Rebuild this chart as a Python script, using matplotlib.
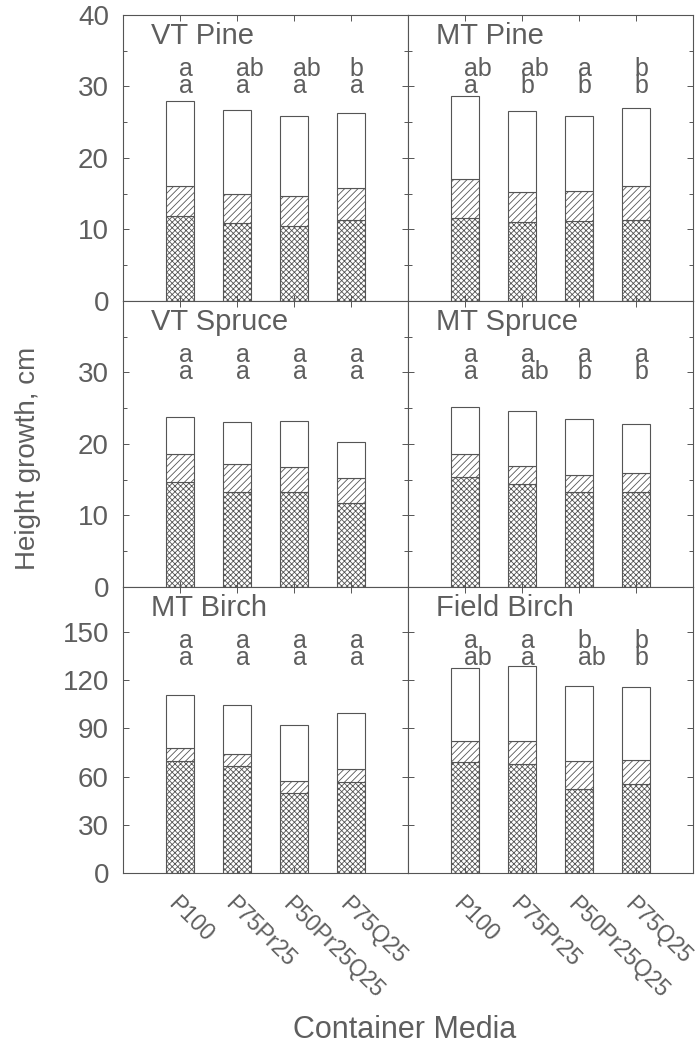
import numpy as np
import matplotlib
matplotlib.use("Agg")
import matplotlib.pyplot as plt
from matplotlib.ticker import MultipleLocator

plt.rcParams['font.family'] = ['Liberation Sans', 'DejaVu Sans']
plt.rcParams['hatch.linewidth'] = 0.6

# container media (x categories)
media = ["P100", "P75Pr25", "P50Pr25Q25", "P75Q25"]

# layer tops for each bar: [crosshatched, striped, total]
vt_pine = [[11.8, 10.9, 10.5, 11.3], [16.1, 14.9, 14.7, 15.8], [27.9, 26.7, 25.8, 26.2]]
mt_pine = [[11.6, 11.0, 11.2, 11.3], [17.0, 15.2, 15.3, 16.1], [28.6, 26.6, 25.9, 26.9]]
vt_spruce = [[14.6, 13.3, 13.3, 11.7], [18.6, 17.2, 16.7, 15.2], [23.8, 23.1, 23.2, 20.2]]
mt_spruce = [[15.3, 14.4, 13.2, 13.3], [18.6, 16.9, 15.6, 15.9], [25.2, 24.6, 23.5, 22.8]]
mt_birch = [[69.6, 66.4, 49.8, 56.4], [77.5, 73.8, 57.5, 64.4], [110.6, 104.6, 91.9, 99.6]]
field_birch = [[68.9, 67.5, 52.3, 55.2], [82.3, 81.9, 69.6, 70.4], [127.7, 128.5, 116.4, 115.8]]

# significance letters (upper row, lower row)
vt_pine_sig = [["a", "ab", "ab", "b"], ["a", "a", "a", "a"]]
mt_pine_sig = [["ab", "ab", "a", "b"], ["a", "b", "b", "b"]]
vt_spruce_sig = [["a", "a", "a", "a"], ["a", "a", "a", "a"]]
mt_spruce_sig = [["a", "a", "a", "a"], ["a", "ab", "b", "b"]]
mt_birch_sig = [["a", "a", "a", "a"], ["a", "a", "a", "a"]]
field_birch_sig = [["a", "a", "b", "b"], ["ab", "a", "ab", "b"]]

panels = [
    ("VT Pine", vt_pine, vt_pine_sig),
    ("MT Pine", mt_pine, mt_pine_sig),
    ("VT Spruce", vt_spruce, vt_spruce_sig),
    ("MT Spruce", mt_spruce, mt_spruce_sig),
    ("MT Birch", mt_birch, mt_birch_sig),
    ("Field Birch", field_birch, field_birch_sig),
]

txt = "#5e5e5e"
edge = "#555555"
hatches = ["xxxxxx", "/////", ""]

fig, axes = plt.subplots(3, 2, figsize=(6.98, 10.53), dpi=100)
fig.subplots_adjust(left=0.176, right=0.993, top=0.986, bottom=0.171,
                    hspace=0, wspace=0)

x = np.arange(1, len(media) + 1)

for i, (ax, (title, layers, sig)) in enumerate(zip(axes.flat, panels)):
    row, col = divmod(i, 2)
    prev = np.zeros(len(media))
    for top, h in zip(layers, hatches):
        top = np.array(top)
        ax.bar(x, top - prev, bottom=prev, width=0.5, color="white",
               edgecolor=edge, linewidth=0.8, hatch=h)
        prev = top

    # y ticks: labelled ones only, limits set afterwards
    if row == 0:
        ax.set_yticks(np.arange(0, 41, 10))
        ax.yaxis.set_minor_locator(MultipleLocator(5))
        ax.set_ylim(0, 40)
    elif row == 1:
        ax.set_yticks(np.arange(0, 31, 10))
        ax.yaxis.set_minor_locator(MultipleLocator(5))
        ax.set_ylim(0, 40)
    else:
        ax.set_yticks(np.arange(0, 151, 30))
        ax.set_ylim(0, 178)
    ax.set_xlim(0, 5)

    ax.set_xticks(x)
    ax.tick_params(axis="both", which="both", direction="in", top=True,
                   right=True, colors=edge, labelcolor=txt, labelsize=20,
                   length=4, width=0.7)
    ax.tick_params(axis="y", which="minor", length=3)
    ax.tick_params(axis="y", pad=10)
    for s in ax.spines.values():
        s.set_color(edge)
        s.set_linewidth(0.8)

    if row < 2:
        ax.set_xticklabels([])
    else:
        ax.set_xticklabels(media, rotation=-45, ha="left", va="top",
                           rotation_mode="anchor", fontsize=16.5)
        ax.tick_params(axis="x", pad=14)

    if col == 1:
        ax.set_yticklabels([])

    ax.text(0.1, 0.927, title, transform=ax.transAxes, fontsize=21,
            color=txt, ha="left", va="center")
    for j, xi in enumerate(x):
        ax.text(xi - 0.02, 0.78, sig[0][j] + "\n" + sig[1][j],
                transform=ax.get_xaxis_transform(), fontsize=18,
                color=txt, ha="left", va="center", linespacing=0.62)

fig.text(0.04, 0.565, "Height growth, cm", rotation=90, fontsize=20,
         color=txt, ha="center", va="center")
fig.text(0.58, 0.022, "Container Media", fontsize=22, color=txt,
         ha="center", va="center")

fig.savefig("out.png", dpi=100)
